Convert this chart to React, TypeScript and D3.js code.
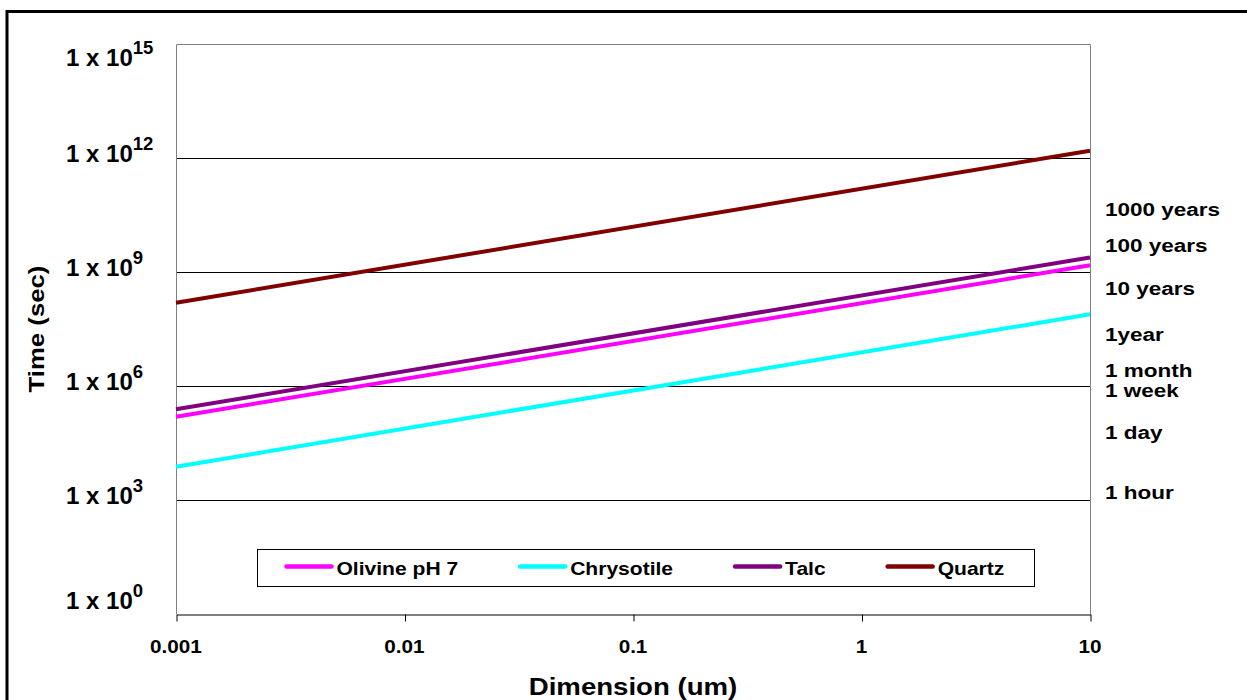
import React, { useRef, useEffect } from 'react';
import * as d3 from 'd3';

// particle dimension (um) at the two ends of each line
const dimensions = [0.001, 10];
// dissolution time (sec) read at 0.001 um and 10 um
const olivine = [1.55e5, 1.5e9];
const chrysotile = [7.5e3, 7.7e7];
const talc = [2.45e5, 2.4e9];
const quartz = [1.55e8, 1.55e12];

const seriesNames = ['Olivine pH 7', 'Chrysotile', 'Talc', 'Quartz'];
const seriesValues = [olivine, chrysotile, talc, quartz];
const seriesColors = ['#ff00ff', '#00ffff', '#800080', '#800000'];

const xTickValues = [0.001, 0.01, 0.1, 1, 10];
const xTickLabels = ['0.001', '0.01', '0.1', '1', '10'];
const yExponents = [0, 3, 6, 9, 12, 15];

// time-period notes on the right, and the log10(sec) level where each one sits
const periodLabels = ['1000 years', '100 years', '10 years', '1year', '1 month', '1 week', '1 day', '1 hour'];
const periodLevels = [10.65, 9.71, 8.57, 7.36, 6.41, 5.87, 4.78, 3.21];

const FONT = "'Liberation Sans', Arial, Helvetica, sans-serif";

const App = () => {
    const ref = useRef<SVGSVGElement>(null);
    const W = 1247, H = 700;
    const plot = { left: 176, right: 1090, top: 44, bottom: 614 };

    useEffect(() => {
        const svg = d3.select(ref.current);
        svg.selectAll('*').remove();

        const xScale = d3.scaleLog().domain([0.001, 10]).range([plot.left, plot.right]);
        const yScale = d3.scaleLog().domain([1, 1e15]).range([plot.bottom, plot.top]);

        // stretched bold text, like the original rendering
        const addText = (x: number, y: number, str: string, size: number, sx: number, anchor: string, rotate = 0) => {
            return svg.append('text')
                .attr('transform', `translate(${x},${y}) rotate(${rotate}) scale(${sx},1)`)
                .attr('text-anchor', anchor)
                .style('font-family', FONT)
                .style('font-weight', 'bold')
                .style('font-size', size + 'px')
                .style('fill', '#000')
                .text(str);
        };

        // outer frame
        svg.append('rect')
            .attr('x', 7).attr('y', 11.5)
            .attr('width', 1260).attr('height', 720)
            .attr('fill', '#fff').attr('stroke', '#000').attr('stroke-width', 3);

        // gridlines
        svg.append('g').selectAll('line')
            .data(yExponents.filter(e => e > 0 && e < 15))
            .enter().append('line')
            .attr('x1', plot.left).attr('x2', plot.right)
            .attr('y1', d => Math.round(yScale(Math.pow(10, d))) + 0.5)
            .attr('y2', d => Math.round(yScale(Math.pow(10, d))) + 0.5)
            .attr('stroke', '#000').attr('stroke-width', 1);

        // plot border (top, left, right in grey)
        svg.append('path')
            .attr('d', `M${plot.left + 0.5},${plot.bottom}V${plot.top + 0.5}H${plot.right + 0.5}V${plot.bottom}`)
            .attr('fill', 'none').attr('stroke', '#808080').attr('stroke-width', 1);

        // x axis
        const xAxis = svg.append('g')
            .attr('transform', `translate(0.5,${plot.bottom + 0.5})`)
            .call(d3.axisBottom(xScale).tickValues(xTickValues).tickSize(7).tickSizeOuter(0).tickFormat(() => ''));
        xAxis.select('.domain').attr('stroke', '#000');
        xAxis.selectAll('.tick line').attr('stroke', '#000');

        xTickValues.forEach((v, i) => {
            addText(xScale(v), 653, xTickLabels[i], 18, 1.15, 'middle');
        });

        // y labels, 1 x 10^n
        yExponents.forEach(e => {
            const base = Math.max(plot.top + 22, Math.min(plot.bottom - 5, yScale(Math.pow(10, e)) + 4));
            const t = svg.append('text')
                .attr('x', 66).attr('y', base)
                .style('font-family', FONT)
                .style('font-weight', 'bold')
                .style('font-size', '24px');
            t.append('tspan').text('1 x 10');
            t.append('tspan').attr('dy', -12).style('font-size', '18.5px').text(String(e));
        });

        // axis titles
        addText((plot.left + plot.right) / 2, 695, 'Dimension (um)', 24, 1.15, 'middle');
        addText(44, 329, 'Time (sec)', 22, 1.17, 'middle', -90);

        // period notes
        periodLabels.forEach((lab, i) => {
            addText(1105, yScale(Math.pow(10, periodLevels[i])) + 6.5, lab, 18, 1.25, 'start');
        });

        // series
        const line = d3.line<number>()
            .x((d, i) => xScale(dimensions[i]))
            .y(d => yScale(d));
        seriesValues.forEach((vals, i) => {
            svg.append('path')
                .datum(vals)
                .attr('d', line)
                .attr('fill', 'none')
                .attr('stroke', seriesColors[i])
                .attr('stroke-width', 4);
        });

        // legend
        const lg = { x: 257.5, y: 549.5, w: 777, h: 37 };
        svg.append('rect')
            .attr('x', lg.x).attr('y', lg.y).attr('width', lg.w).attr('height', lg.h)
            .attr('fill', '#fff').attr('stroke', '#000').attr('stroke-width', 1);
        let cx = lg.x + 29;
        seriesNames.forEach((name, i) => {
            svg.append('line')
                .attr('x1', cx).attr('x2', cx + 45)
                .attr('y1', lg.y + 17).attr('y2', lg.y + 17)
                .attr('stroke', seriesColors[i]).attr('stroke-width', 4.5)
                .attr('stroke-linecap', 'round');
            const t = addText(cx + 50, lg.y + 25.5, name, 18, 1.17, 'start');
            const w = (t.node() as SVGTextElement).getComputedTextLength() * 1.17;
            cx = cx + 50 + w + 62;
        });
    }, []);

    return (
        <svg
            ref={ref}
            width={W}
            height={H}
            viewBox={`0 0 ${W} ${H}`}
            style={{ position: 'absolute', left: 0, top: 0, background: '#fff' }}
        />
    );
};

export default App;
